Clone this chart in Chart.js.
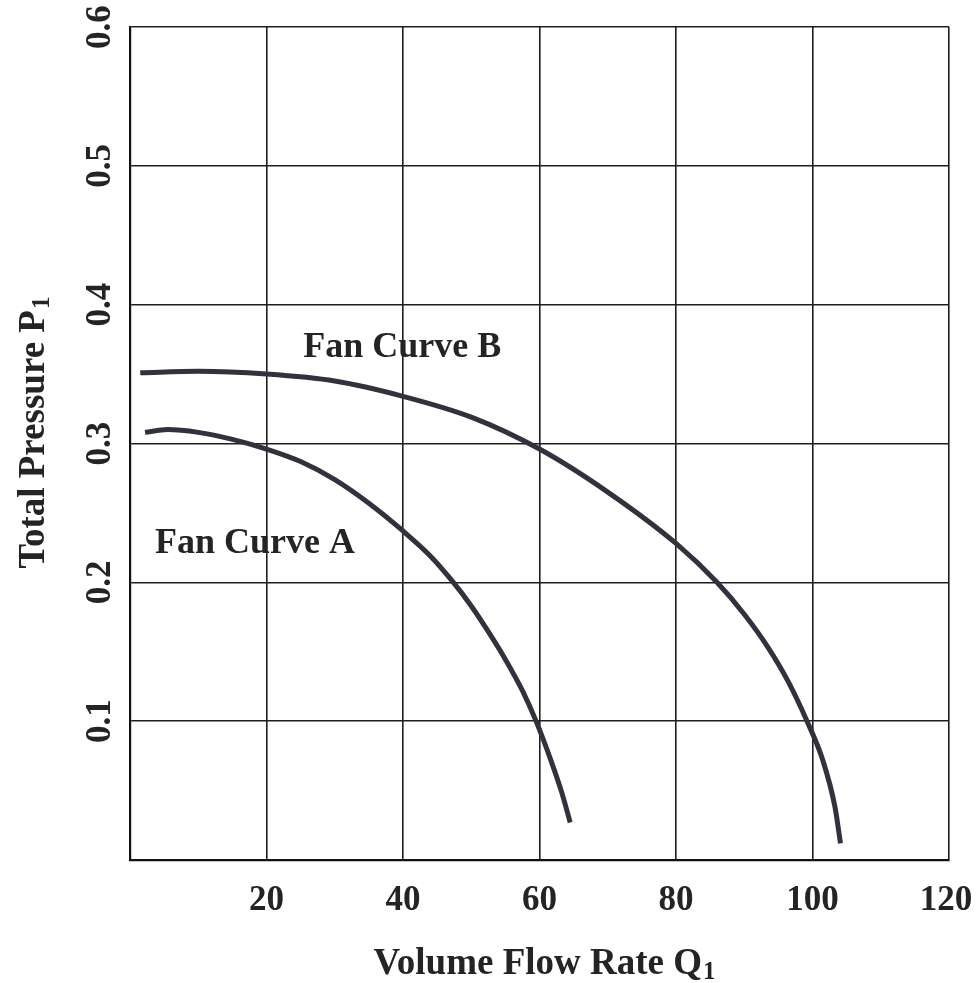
<!DOCTYPE html>
<html>
<head>
<meta charset="utf-8">
<script src="https://cdn.jsdelivr.net/npm/chart.js@4.4.1/dist/chart.umd.min.js"></script>
<style>
  html, body { margin: 0; padding: 0; background: #fff; }
  #wrap { width: 977px; height: 983px; }
</style>
</head>
<body>
<div id="wrap"><canvas id="fanChart" width="977" height="983"></canvas></div>
<script>
// ---------------- data ----------------
var curveA_Q = [2.2, 5.5, 10, 15, 20, 25, 30, 35, 40, 44, 47.2, 50, 52.5, 55, 57.5, 59.5, 61.8, 63.3, 64.5];
var curveA_P = [0.308, 0.310, 0.308, 0.303, 0.296, 0.287, 0.274, 0.257, 0.237, 0.219, 0.201, 0.183, 0.1645, 0.1445, 0.122, 0.100, 0.070, 0.048, 0.027];

var curveB_Q = [1.5, 10, 20, 30, 40, 50, 60, 70, 80, 86, 90, 93.5, 96.5, 99.2, 101.5, 103.3, 104.1];
var curveB_P = [0.351, 0.352, 0.350, 0.345, 0.334, 0.319, 0.296, 0.265, 0.228, 0.200, 0.177, 0.153, 0.128, 0.100, 0.072, 0.038, 0.012];

var xTicks = [20, 40, 60, 80, 100, 120];
var yTicks = [0.1, 0.2, 0.3, 0.4, 0.5, 0.6];

var labelA = "Fan Curve A";
var labelB = "Fan Curve B";
var xTitle = "Volume Flow Rate Q";
var yTitle = "Total Pressure P";
var subscript = "1";

// where the curve names sit (centre, baseline), in data units
var labelA_at = [18.3, 0.221];
var labelB_at = [39.9, 0.362];

function toPoints(xs, ys) {
  return xs.map(function (x, i) {
    return { x: x, y: ys[i] };
  });
}

var ink = "#242424";
var curveInk = "#30323e";
var serif = '"Liberation Serif", "Times New Roman", serif';

// ---------------- texts drawn on the canvas ----------------
var textPlugin = {
  id: "texts",
  afterDraw: function (chart) {
    var ctx = chart.ctx;
    var xs = chart.scales.x;
    var ys = chart.scales.y;
    ctx.save();
    ctx.fillStyle = ink;
    ctx.font = "bold 35px " + serif;
    ctx.textAlign = "center";
    ctx.textBaseline = "middle";

    // x tick labels
    xTicks.forEach(function (v) {
      ctx.fillText(String(v), xs.getPixelForValue(v) - (v === 120 ? 3 : 0), 901);
    });

    // rotated y tick labels
    yTicks.forEach(function (v) {
      ctx.save();
      ctx.translate(101, ys.getPixelForValue(v));
      ctx.rotate(-Math.PI / 2);
      ctx.fillText(v.toFixed(1), 0, 0);
      ctx.restore();
    });

    // curve names
    ctx.font = "bold 36px " + serif;
    ctx.textBaseline = "alphabetic";
    ctx.fillText(labelB, xs.getPixelForValue(labelB_at[0]), ys.getPixelForValue(labelB_at[1]));
    ctx.fillText(labelA, xs.getPixelForValue(labelA_at[0]), ys.getPixelForValue(labelA_at[1]));

    // axis titles with subscript
    function titleWithSub(main, sub, cx, baseY) {
      ctx.font = "bold 37px " + serif;
      var w1 = ctx.measureText(main).width;
      ctx.font = "bold 25px " + serif;
      var w2 = ctx.measureText(sub).width;
      var left = cx - (w1 + w2) / 2;
      ctx.textAlign = "left";
      ctx.font = "bold 37px " + serif;
      ctx.fillText(main, left, baseY);
      ctx.font = "bold 25px " + serif;
      ctx.fillText(sub, left + w1 + 1, baseY + 5);
    }

    titleWithSub(xTitle, subscript, 544, 974);

    ctx.save();
    ctx.translate(44, 433);
    ctx.rotate(-Math.PI / 2);
    titleWithSub(yTitle, subscript, 0, 0);
    ctx.restore();

    ctx.restore();
  },
};

var canvas = document.getElementById("fanChart");

var fanChart = new Chart(canvas, {
  type: "line",
  data: {
    datasets: [
      {
        label: labelA,
        data: toPoints(curveA_Q, curveA_P),
        borderColor: curveInk,
        borderWidth: 5,
        pointRadius: 0,
        cubicInterpolationMode: "monotone",
        borderCapStyle: "butt",
        fill: false,
      },
      {
        label: labelB,
        data: toPoints(curveB_Q, curveB_P),
        borderColor: curveInk,
        borderWidth: 5,
        pointRadius: 0,
        cubicInterpolationMode: "monotone",
        borderCapStyle: "butt",
        fill: false,
      },
    ],
  },
  options: {
    responsive: false,
    animation: false,
    layout: { padding: { top: 27, right: 28, left: 0, bottom: 0 } },
    plugins: {
      legend: { display: false },
      tooltip: { enabled: false },
    },
    scales: {
      x: {
        type: "linear",
        min: 0,
        max: 120,
        afterFit: function (s) {
          s.height = 123;
        },
        grid: { color: "#1e1e1e", lineWidth: 1.6, drawTicks: false },
        border: { display: true, color: "#111", width: 2.2 },
        ticks: { stepSize: 20, display: false },
      },
      y: {
        type: "linear",
        min: 0,
        max: 0.6,
        afterFit: function (s) {
          s.width = 130;
        },
        grid: { color: "#1e1e1e", lineWidth: 1.6, drawTicks: false },
        border: { display: true, color: "#111", width: 2.2 },
        ticks: { stepSize: 0.1, display: false },
      },
    },
  },
  plugins: [textPlugin],
});
</script>
</body>
</html>
